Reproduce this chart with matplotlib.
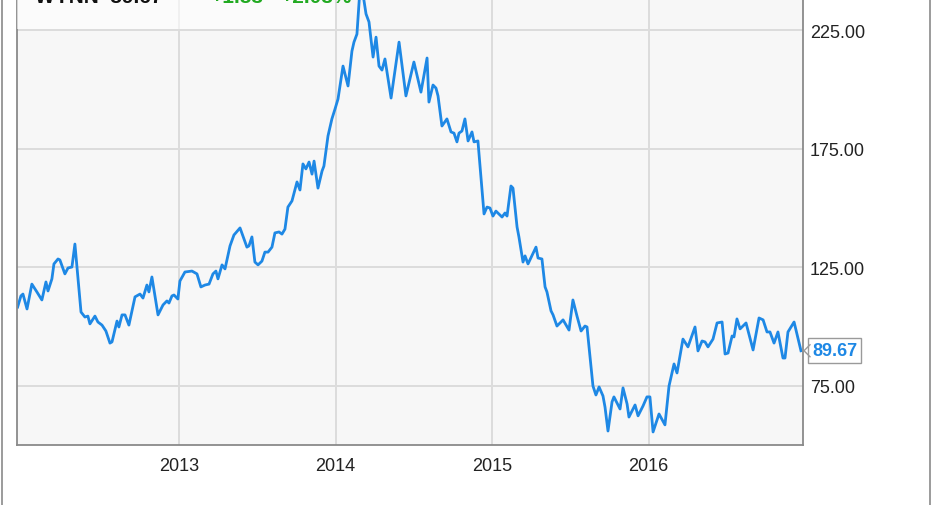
import matplotlib
matplotlib.use("Agg")
import matplotlib.pyplot as plt
from matplotlib.patches import Rectangle

# weekly-ish WYNN close (decimal year, price)
years = [
    2011.969, 2011.990, 2012.003, 2012.029, 2012.060, 2012.092, 2012.124, 2012.150, 2012.163, 2012.188,
    2012.201, 2012.227, 2012.239, 2012.271, 2012.291, 2012.316, 2012.335, 2012.374, 2012.399, 2012.418,
    2012.431, 2012.463, 2012.482, 2012.508, 2012.533, 2012.559, 2012.572, 2012.604, 2012.616, 2012.636,
    2012.655, 2012.680, 2012.719, 2012.751, 2012.770, 2012.795, 2012.808, 2012.827, 2012.866, 2012.898,
    2012.923, 2012.936, 2012.955, 2012.968, 2012.993, 2013.006,
    2013.038, 2013.083, 2013.115, 2013.140, 2013.166, 2013.192, 2013.217, 2013.236, 2013.249, 2013.275,
    2013.294, 2013.326, 2013.351, 2013.390, 2013.434, 2013.447, 2013.466, 2013.485, 2013.505, 2013.530,
    2013.549, 2013.569, 2013.594, 2013.613, 2013.639, 2013.658, 2013.677, 2013.696, 2013.722, 2013.754,
    2013.773, 2013.792, 2013.811, 2013.831, 2013.850, 2013.863, 2013.888, 2013.914, 2013.926, 2013.952,
    2013.977, 2013.997, 2014.016,
    2014.048, 2014.080, 2014.105, 2014.118, 2014.137, 2014.156, 2014.176, 2014.195, 2014.214, 2014.240,
    2014.259, 2014.278, 2014.297, 2014.316, 2014.355, 2014.406, 2014.450, 2014.501, 2014.546, 2014.585,
    2014.597, 2014.623, 2014.642, 2014.655, 2014.680, 2014.712, 2014.738, 2014.757, 2014.776, 2014.789,
    2014.808, 2014.827, 2014.847, 2014.872, 2014.885, 2014.910,
    2014.949, 2014.968, 2014.987, 2015.006, 2015.025, 2015.064, 2015.083, 2015.096, 2015.121, 2015.134,
    2015.160, 2015.172, 2015.198, 2015.211, 2015.230, 2015.281, 2015.294, 2015.319, 2015.339, 2015.351,
    2015.377, 2015.390, 2015.415, 2015.454, 2015.492, 2015.517, 2015.543, 2015.569, 2015.594, 2015.607,
    2015.645, 2015.664, 2015.684, 2015.709, 2015.722, 2015.741, 2015.767, 2015.779, 2015.818, 2015.837,
    2015.863, 2015.875, 2015.901,
    2015.914, 2015.933, 2015.965, 2015.990, 2016.009, 2016.029, 2016.067, 2016.105, 2016.131, 2016.163,
    2016.182, 2016.220, 2016.252, 2016.297, 2016.316, 2016.342, 2016.361, 2016.380, 2016.412, 2016.438,
    2016.470, 2016.489, 2016.508, 2016.534, 2016.546, 2016.565, 2016.585, 2016.623, 2016.668, 2016.706,
    2016.732, 2016.757, 2016.776, 2016.802, 2016.827, 2016.859, 2016.872, 2016.891, 2016.930, 2016.974,
]
prices = [
    108.1, 112.8, 113.6, 107.3, 117.8, 114.5, 111.1, 118.7, 114.9, 120.0,
    126.3, 128.4, 128.0, 122.1, 124.6, 125.0, 134.7, 106.0, 103.9, 104.3,
    101.0, 104.3, 101.8, 100.5, 98.0, 92.9, 93.4, 102.2, 99.7, 104.8,
    104.8, 100.5, 112.4, 113.6, 111.9, 117.4, 114.5, 120.8, 104.8, 109.0,
    110.7, 109.8, 112.8, 113.2, 111.5, 119.1,
    122.9, 123.3, 122.1, 116.6, 117.4, 117.8, 122.1, 123.3, 120.0, 125.9,
    124.2, 133.9, 138.5, 141.5, 133.4, 133.9, 137.7, 127.1, 125.9, 127.5,
    131.3, 131.3, 133.4, 139.4, 139.8, 138.9, 141.0, 150.3, 152.9, 160.9,
    157.5, 168.5, 166.4, 169.3, 164.2, 169.7, 158.3, 165.5, 167.6, 180.3,
    187.5, 191.7, 195.9,
    209.8, 201.4, 216.1, 219.9, 223.3, 242.0, 240.0, 231.8, 228.4, 213.6,
    222.0, 209.8, 208.1, 212.8, 196.3, 219.9, 197.2, 211.5, 198.8, 213.2,
    194.6, 201.8, 200.5, 197.2, 184.5, 187.5, 182.0, 181.5, 177.8, 181.5,
    182.4, 187.5, 178.2, 182.0, 177.8, 178.2,
    147.4, 150.3, 149.9, 146.5, 148.6, 146.1, 147.8, 146.5, 159.2, 158.3,
    141.9, 137.7, 127.1, 129.7, 126.3, 133.4, 128.8, 128.4, 116.6, 114.5,
    106.5, 104.8, 100.1, 102.7, 98.4, 111.1, 104.3, 98.0, 100.1, 99.7,
    74.8, 71.0, 74.4, 70.6, 65.9, 55.8, 68.1, 70.2, 65.1, 74.0,
    67.2, 61.7, 65.1,
    66.8, 62.2, 66.4, 70.2, 70.2, 55.4, 63.0, 58.4, 74.8, 84.1,
    80.3, 94.6, 91.3, 99.7, 89.6, 93.8, 93.4, 91.3, 94.6, 101.4,
    101.8, 88.3, 88.7, 95.9, 95.5, 103.1, 98.9, 101.4, 90.0, 103.5,
    102.7, 97.6, 97.6, 92.9, 97.6, 86.6, 86.6, 97.6, 101.8, 89.67,
]
y_ticks = [75, 125, 175, 225]
x_ticks = [2013, 2014, 2015, 2016]
x_labels = ["2013", "2014", "2015", "2016"]
ticker, last_txt, chg, chg_pct = "WYNN", "89.67", "+1.83", "+2.08%"

BLUE = "#1e88e5"
GREY = "#8a8a8a"
plt.rcParams["font.family"] = ["Liberation Sans", "DejaVu Sans"]

fig = plt.figure(figsize=(9.31, 5.06), dpi=100)
ax = fig.add_axes([17 / 931, 1 - 446 / 506, (803 - 17) / 931, 446 / 506])
ax.set_facecolor("#f7f7f7")
ax.plot(years, prices, color=BLUE, lw=2.0, solid_joinstyle="round")
ax.set_xlim(2011.965, 2016.987)
ax.set_ylim(49.9, 238.1)

ax.set_yticks(y_ticks)
ax.set_yticklabels([f"{v:.2f}" for v in y_ticks])
ax.set_xticks(x_ticks)
ax.set_xticklabels(x_labels, family=["Liberation Sans Narrow", "Liberation Sans"])
ax.yaxis.tick_right()
ax.tick_params(axis="both", length=0, labelsize=13, colors="#222222")
ax.tick_params(axis="y", pad=5)
ax.tick_params(axis="x", pad=9)
ax.grid(color="#dcdcdc", lw=1.4)
ax.set_axisbelow(True)
ax.spines["top"].set_visible(False)
for s in ("left", "right", "bottom"):
    ax.spines[s].set_color(GREY)
    ax.spines[s].set_linewidth(1.3)

# last-value tag with a small pointer
last = prices[-1]
ax.annotate(f"{last:.2f}", xy=(1.0, last), xycoords=("axes fraction", "data"),
            xytext=(6.5, 0), textcoords="offset points", va="center", ha="left",
            fontsize=13, color=BLUE, fontweight="bold",
            bbox=dict(boxstyle="square,pad=0.22", fc="white", ec="#9a9a9a", lw=1))
fig.canvas.draw()
_, ly = ax.transData.transform((2016.0, last))
px, py = 1 / 931, 1 / 506
fig.add_artist(plt.Line2D([810 * px, 804 * px, 810 * px], [(ly + 6) * py, ly * py, (ly - 6) * py],
                          transform=fig.transFigure, color="#9a9a9a", lw=1))

# header (clipped by the top of the image)
fig.patches.append(Rectangle((17 / 931, 1 - 30 / 506), 318 / 931, 30 / 506,
                             transform=fig.transFigure, fc="white", ec="none", alpha=0.6))
top = 1 - 3 / 506
fig.text(35 / 931, top, f"{ticker}  {last_txt}", fontsize=15, fontweight="bold", color="#111111", va="baseline")
fig.text(210 / 931, top, chg, fontsize=15, fontweight="bold", color="#22aa22", va="baseline")
fig.text(280 / 931, top, chg_pct, fontsize=15, fontweight="bold", color="#22aa22", va="baseline")

# outer frame sides
for xf in (1.5 / 931, 929.5 / 931):
    fig.add_artist(plt.Line2D([xf, xf], [0, 1], transform=fig.transFigure, color=GREY, lw=1.2))

fig.savefig("out.png", dpi=100)
